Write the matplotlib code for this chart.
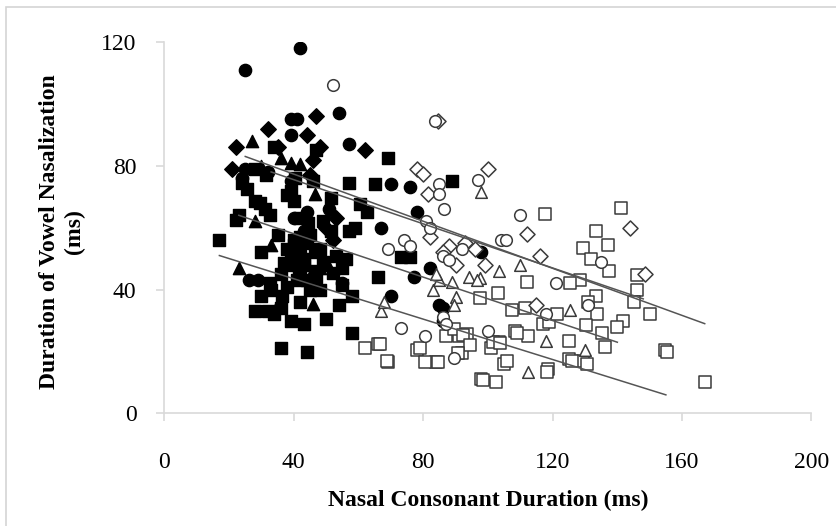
import matplotlib.pyplot as plt
from matplotlib.patches import Rectangle

plt.rcParams['font.family'] = ['Liberation Serif', 'DejaVu Serif']

# filled markers (short nasal group)
fc_x = [25, 42, 54, 39, 41, 39, 57, 76, 70, 78, 67, 98, 82, 77, 70, 26, 55, 44, 85, 86, 86, 25, 32, 24, 39, 40, 43, 51, 29]
fc_y = [111, 118, 97, 95, 95, 90, 87, 73, 74, 65, 60, 52, 47, 44, 38, 43, 42, 65, 35, 34, 30, 79, 78, 76, 75, 63, 59, 66, 43]

fd_x = [47, 32, 44, 22, 62, 21, 45, 53, 50, 52, 46, 35, 48]
fd_y = [96, 92, 90, 86, 85, 79, 77, 63, 60, 56, 82, 86, 86]

fs_x = [17, 22, 24, 28, 31, 32.5, 30, 38, 40, 42, 44.5, 45, 40, 42, 43, 39, 46.5, 51.5, 57, 56,
        48, 32.5, 36.5, 41, 48, 55, 66, 58, 28, 32, 34, 54, 50, 39, 43, 58, 36, 44, 51.5, 60.5,
        62.5, 57, 65, 69, 89, 73, 76, 47, 34, 28, 31.5, 39, 46, 42, 44, 38, 35, 53, 46.5, 41.5,
        23, 30, 36, 42, 49, 40, 41, 43, 39.5, 42, 44, 37, 47, 49, 52, 55, 33, 45, 38, 59, 36,
        29.5, 25.5, 40.5]
fs_y = [56, 62.5, 74.5, 68.5, 66, 64, 52, 70.5, 68.5, 63, 61.5, 57.5, 54.5, 51, 48, 50, 52, 59, 59, 50,
        53, 42, 38, 43, 40, 41.5, 44, 38, 33, 33, 32, 35, 30.5, 30, 29, 26, 21, 20, 69.5, 67.5,
        65, 74.5, 74, 82.5, 75, 50.5, 50.5, 85, 86, 79, 77, 72, 75, 57, 55, 53, 57.5, 51, 46, 46,
        64, 38, 45, 36, 62, 56, 52.5, 50, 48, 45, 43, 48.5, 44, 49, 45.5, 47, 40, 40, 41, 60, 34,
        68, 72.5, 76]

ft_x = [27, 36, 39, 42, 46.5, 28, 33, 23, 45, 48, 46, 35, 42.5, 50.5, 30]
ft_y = [88, 82.5, 81, 80.5, 71, 62, 54.5, 47, 44.5, 47, 35.5, 35.5, 57.5, 48, 80]

# open markers (long nasal group)
oc_x = [52, 97, 85, 86.5, 81, 110, 104, 105.5, 74, 69, 92, 135, 121, 73, 80.5, 89.5, 100, 83.5,
        131, 85, 86, 88, 118, 86, 87, 82, 76]
oc_y = [106, 75.5, 74, 66, 62, 64, 56, 56, 56, 53, 53, 49, 42, 27.5, 25, 18, 26.5, 94.5,
        35, 71, 51, 49.5, 32, 31, 29, 60, 54]

od_x = [78, 80, 100, 81.5, 144, 112, 116, 82, 88, 148.5, 99, 115, 84.5, 96, 90, 86, 93]
od_y = [79, 77.5, 79, 71, 60, 58, 51, 57, 54, 45, 48, 35, 94.5, 53, 48, 52, 55]

ot_x = [98, 110, 83, 85, 89, 67, 68, 118, 112.5, 125.5, 130, 103.5, 97.7, 90, 94, 89.5, 96.7, 84]
ot_y = [71.5, 48, 40, 43, 42.5, 33, 36, 23.5, 13.5, 33.5, 20.5, 46, 43.6, 37.6, 44, 35, 43, 45]

os_x = [117.5, 141, 133.5, 137, 129.5, 132, 137.5, 146, 146.2, 128.5, 133.5, 131, 133.6, 150, 145,
        141.7, 130.3, 135.2, 136.2, 139.8, 154.7, 155.5, 167, 125, 125, 129.5, 118.7, 98, 102.5, 105,
        108.5, 111.5, 103.2, 97.6, 93.6, 92, 84, 78, 69, 66, 62, 68.7, 107.4, 117, 119, 121.5,
        103.5, 101, 112.5, 108.9, 91, 87, 89.5, 92.4, 94.5, 101.7, 103.7, 90.8, 80.6, 84.7, 66.6,
        125.4, 112, 98.5, 118.3, 126, 130.5, 106, 79]
os_y = [64.5, 66.5, 59, 54.5, 53.5, 50, 46, 44.7, 40, 43, 38, 36, 32, 32, 36,
        30, 28.5, 26, 21.5, 28, 20.5, 19.8, 10, 23.5, 17.5, 17, 14.5, 11, 10, 16,
        26.5, 34, 38.8, 37.2, 25.5, 19.5, 16.5, 20.5, 16.5, 22.5, 21, 17, 33.4, 29, 29.5, 32,
        23, 21, 25, 26, 25, 25, 27.3, 25.3, 22, 23.2, 22.6, 19.4, 16.7, 16.7, 22.5,
        42, 42.5, 10.8, 13.5, 16.8, 16, 17, 21]

# regression lines
line1_x, line1_y = [25, 167], [83, 29]
line2_x, line2_y = [33, 148], [78, 37]
line3_x, line3_y = [23, 140], [64, 23]
line4_x, line4_y = [17, 155], [51, 6]

fig = plt.figure(figsize=(8.37, 5.26), dpi=100)
ax = fig.add_axes([0.1964, 0.214, 0.7731, 0.7063])

edge = '#3a3a3a'
ms = 78
ax.scatter(fs_x, fs_y, marker='s', s=ms, c='black', zorder=3)
ax.scatter(fd_x, fd_y, marker='D', s=ms * 0.8, c='black', zorder=3)
ax.scatter(fc_x, fc_y, marker='o', s=ms, c='black', zorder=3)
ax.scatter(ft_x, ft_y, marker='^', s=ms, c='black', zorder=3)

ax.scatter(os_x, os_y, marker='s', s=ms * 0.9, facecolors='white', edgecolors=edge, linewidths=1.1, zorder=3)
ax.scatter(od_x, od_y, marker='D', s=ms * 0.75, facecolors='white', edgecolors=edge, linewidths=1.1, zorder=3)
ax.scatter(oc_x, oc_y, marker='o', s=ms * 0.9, facecolors='white', edgecolors=edge, linewidths=1.1, zorder=3)
ax.scatter(ot_x, ot_y, marker='^', s=ms * 0.9, facecolors='white', edgecolors=edge, linewidths=1.1, zorder=3)

for lx, ly in [(line1_x, line1_y), (line2_x, line2_y), (line3_x, line3_y), (line4_x, line4_y)]:
    ax.plot(lx, ly, color='#555555', lw=1.1, zorder=4)

ax.set_xlim(0, 200)
ax.set_ylim(0, 120)
ax.set_xticks([0, 40, 80, 120, 160, 200])
ax.set_yticks([0, 40, 80, 120])

for side in ['top', 'right']:
    ax.spines[side].set_visible(False)
for side in ['left', 'bottom']:
    ax.spines[side].set_color('#d9d9d9')
    ax.spines[side].set_linewidth(1.2)

ax.tick_params(axis='both', direction='out', length=6, width=1.2, color='#d9d9d9', labelsize=17)
ax.tick_params(axis='x', pad=22)
ax.tick_params(axis='y', pad=14)

ax.set_xlabel('Nasal Consonant Duration (ms)', fontsize=17, fontweight='bold')
ax.set_ylabel('Duration of Vowel Nasalization\n(ms)', fontsize=17, fontweight='bold', linespacing=1.2)
ax.xaxis.set_label_coords(0.5, -0.233)
ax.xaxis.label.set_va('center')
ax.yaxis.set_label_coords(-0.158, 0.49)
ax.yaxis.label.set_va('center')

# light frame around the chart area
fig.patches.append(Rectangle((0.0077, -0.5), 2, 1.486, transform=fig.transFigure,
                             fill=False, edgecolor='#d4d4d4', lw=1.2))

fig.savefig('out.png', dpi=100)
